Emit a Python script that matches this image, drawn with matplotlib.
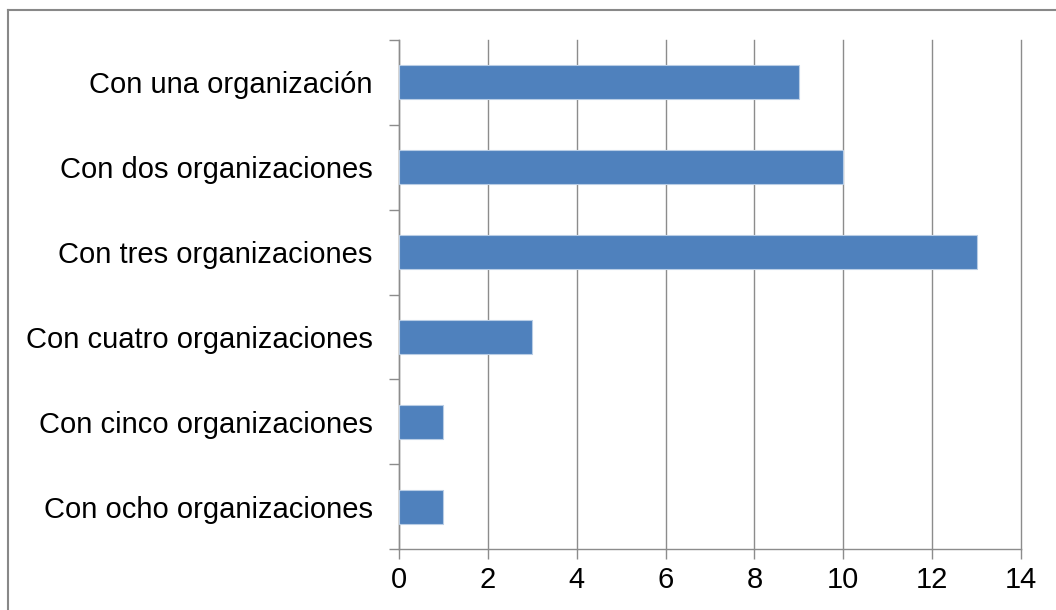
import matplotlib
matplotlib.use("Agg")
import matplotlib.pyplot as plt
from matplotlib.lines import Line2D

categories = ["Con una organización", "Con dos organizaciones", "Con tres organizaciones",
              "Con cuatro organizaciones", "Con cinco organizaciones", "Con ocho organizaciones"]
values = [9, 10, 13, 3, 1, 1]
xticks = [0, 2, 4, 6, 8, 10, 12, 14]

plt.rcParams['font.family'] = ['Liberation Sans', 'DejaVu Sans']

W, H = 1056, 610
fig = plt.figure(figsize=(W/100, H/100), dpi=100)
ax = fig.add_axes([399/W, 1-549/H, (1021-399)/W, (549-40)/H])

n = len(categories)
ypos = list(range(n))
ax.barh(ypos, values, height=0.4, color="#4F81BD", edgecolor="#B9CDE5", linewidth=0.8, zorder=3)
ax.set_ylim(n-0.5, -0.5)
ax.set_xlim(0, 14)
ax.set_xticks(xticks)
ax.set_xticklabels([str(t) for t in xticks])
ax.set_yticks(ypos)
ax.set_yticklabels(categories)
ax.set_yticks([i-0.5 for i in range(n+1)], minor=True)

grid_c = "#8C8C8C"
ax.grid(axis='x', color=grid_c, linewidth=1.0, zorder=0)
for gl in ax.xaxis.get_gridlines():
    gl.set_clip_on(False)
for s in ['top', 'right']:
    ax.spines[s].set_visible(False)
for s in ['left', 'bottom']:
    ax.spines[s].set_color(grid_c)
    ax.spines[s].set_linewidth(1.0)

ax.tick_params(axis='y', which='major', length=0, pad=19, labelsize=21, labelcolor='black')
ax.tick_params(axis='y', which='minor', length=7, color=grid_c, width=1.0)
ax.tick_params(axis='x', which='major', length=7, color=grid_c, width=1.0, pad=5,
               labelsize=21, labelcolor='black')

# outer chart border (left and top visible)
fig.add_artist(Line2D([7.5/W, 7.5/W], [0, 1-10/H], color="#888888", linewidth=1.5,
                      transform=fig.transFigure))
fig.add_artist(Line2D([7.5/W, 1.0], [1-10/H, 1-10/H], color="#888888", linewidth=1.5,
                      transform=fig.transFigure))

fig.savefig("out.png", dpi=100)
